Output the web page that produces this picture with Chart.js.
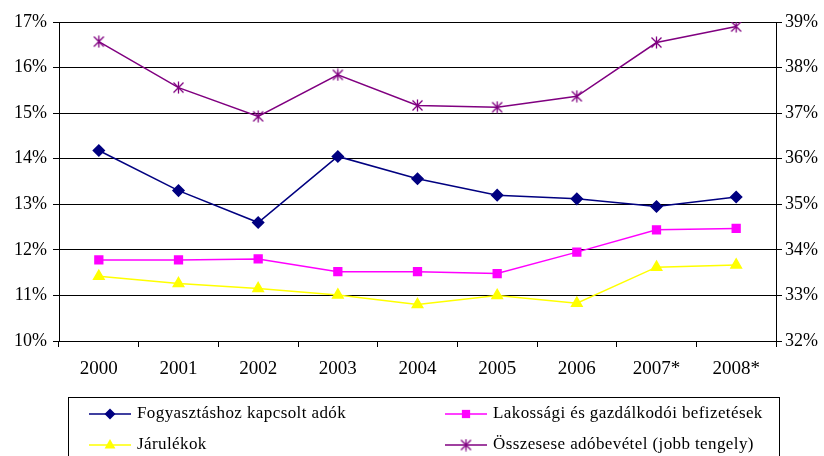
<!DOCTYPE html>
<html lang="hu">
<head>
<meta charset="UTF-8">
<title>Adóbevételek</title>
<script src="https://cdn.jsdelivr.net/npm/chart.js"></script>
<style>
  html, body { margin: 0; padding: 0; background: #fff; }
  #wrap { width: 824px; height: 456px; position: relative; }
</style>
</head>
<body>
<div id="wrap"><canvas id="grafikon" width="824" height="456"></canvas></div>

<script>
// adatok
var evek = ['2000', '2001', '2002', '2003', '2004', '2005', '2006', '2007*', '2008*'];
var fogyasztasi = [14.18, 13.30, 12.60, 14.05, 13.56, 13.20, 13.12, 12.95, 13.16];
var lakossagi = [11.78, 11.78, 11.80, 11.52, 11.52, 11.48, 11.95, 12.44, 12.47];
var jarulekok = [11.42, 11.26, 11.15, 11.01, 10.80, 11.00, 10.83, 11.62, 11.67];
var osszesen = [38.57, 37.56, 36.93, 37.84, 37.17, 37.13, 37.37, 38.55, 38.90];
var nevek = ['Fogyasztáshoz kapcsolt adók', 'Lakossági és gazdálkodói befizetések', 'Járulékok', 'Összesese adóbevétel (jobb tengely)'];

var betu = '"Liberation Serif", "Times New Roman", serif';

// csillag jelölő (X + függőleges vonal)
function csillagKep(szin) {
    var c = document.createElement('canvas');
    c.width = 13; c.height = 13;
    var g = c.getContext('2d');
    g.strokeStyle = szin;
    g.lineWidth = 1.3;
    g.beginPath();
    g.moveTo(1.5, 1.5); g.lineTo(11.5, 11.5);
    g.moveTo(11.5, 1.5); g.lineTo(1.5, 11.5);
    g.moveTo(6.5, 0.5); g.lineTo(6.5, 12.5);
    g.stroke();
    return c;
}
var csillag = csillagKep('#800080');

function jelolo(ctx, ds, x, y) {
    ctx.save();
    ctx.fillStyle = ds.pointBackgroundColor;
    var r = ds.pointRadius;
    ctx.beginPath();
    if (ds.pointStyle === 'rectRot') {
        ctx.moveTo(x, y - r); ctx.lineTo(x + r, y); ctx.lineTo(x, y + r); ctx.lineTo(x - r, y);
        ctx.closePath(); ctx.fill();
    } else if (ds.pointStyle === 'rect') {
        ctx.fillRect(x - r * 0.75, y - r * 0.75, r * 1.5, r * 1.5);
    } else if (ds.pointStyle === 'triangle') {
        ctx.moveTo(x, y - r); ctx.lineTo(x + r * 0.9, y + r * 0.6); ctx.lineTo(x - r * 0.9, y + r * 0.6);
        ctx.closePath(); ctx.fill();
    } else {
        ctx.drawImage(csillag, x - 6.5, y - 6.5);
    }
    ctx.restore();
}

// saját jelmagyarázat keretben
var jelmagyarazat = {
    id: 'jelmagyarazat',
    afterDraw: function (chart) {
        var ctx = chart.ctx;
        ctx.save();
        ctx.strokeStyle = '#000';
        ctx.lineWidth = 1;
        ctx.strokeRect(68.5, 397.5, 711, 70);
        var oszlopX = [89, 445];
        var sorY = [414, 445];
        ctx.font = '17px ' + betu;
        ctx.letterSpacing = '0.4px';
        ctx.textBaseline = 'middle';
        chart.data.datasets.forEach(function (ds, i) {
            var x = oszlopX[i % 2];
            var y = sorY[Math.floor(i / 2)];
            ctx.strokeStyle = ds.borderColor;
            ctx.lineWidth = 1.5;
            ctx.beginPath();
            ctx.moveTo(x, y); ctx.lineTo(x + 42, y);
            ctx.stroke();
            jelolo(ctx, ds, x + 21, y);
            ctx.fillStyle = '#000';
            ctx.fillText(ds.label, x + 48, y);
        });
        ctx.restore();
    }
};

var config = {
    type: 'line',
    data: {
        labels: evek,
        datasets: [{
            label: nevek[0],
            data: fogyasztasi,
            yAxisID: 'y',
            borderColor: '#000080',
            pointBackgroundColor: '#000080',
            pointBorderColor: '#000080',
            pointStyle: 'rectRot',
            pointRadius: 5.5,
            borderWidth: 1.5,
            tension: 0
        }, {
            label: nevek[1],
            data: lakossagi,
            yAxisID: 'y',
            borderColor: '#FF00FF',
            pointBackgroundColor: '#FF00FF',
            pointBorderColor: '#FF00FF',
            pointStyle: 'rect',
            pointRadius: 5.5,
            borderWidth: 1.5,
            tension: 0
        }, {
            label: nevek[2],
            data: jarulekok,
            yAxisID: 'y',
            borderColor: '#FFFF00',
            pointBackgroundColor: '#FFFF00',
            pointBorderColor: '#FFFF00',
            pointStyle: 'triangle',
            pointRadius: 6,
            borderWidth: 1.5,
            tension: 0
        }, {
            label: nevek[3],
            data: osszesen,
            yAxisID: 'y1',
            borderColor: '#800080',
            pointBackgroundColor: '#800080',
            pointBorderColor: '#800080',
            pointStyle: csillag,
            pointRadius: 6,
            borderWidth: 1.5,
            tension: 0
        }]
    },
    options: {
        responsive: false,
        animation: false,
        layout: { padding: { top: 22, left: 0, right: 0, bottom: 0 } },
        plugins: {
            legend: { display: false },
            tooltip: { enabled: false }
        },
        scales: {
            x: {
                offset: true,
                afterFit: function (s) { s.height = 115; },
                grid: { offset: true, drawOnChartArea: false, drawTicks: true, tickLength: 6, color: '#000' },
                border: { color: '#000', width: 1 },
                ticks: { color: '#000', padding: 11, font: { family: betu, size: 19 } }
            },
            y: {
                position: 'left',
                min: 10, max: 17,
                afterFit: function (s) { s.width = 59; },
                ticks: { stepSize: 1, color: '#000', padding: 6, font: { family: betu, size: 18 },
                    callback: function (v) { return v + '%'; } },
                grid: { color: '#000', lineWidth: 1, tickLength: 6 },
                border: { color: '#000', width: 1 }
            },
            y1: {
                position: 'right',
                min: 32, max: 39,
                afterFit: function (s) { s.width = 48; },
                ticks: { stepSize: 1, color: '#000', padding: 3, font: { family: betu, size: 18 },
                    callback: function (v) { return v + '%'; } },
                grid: { drawOnChartArea: false, color: '#000', tickLength: 6 },
                border: { color: '#000', width: 1 }
            }
        }
    },
    plugins: [jelmagyarazat]
};

new Chart(document.getElementById('grafikon').getContext('2d'), config);
</script>
</body>
</html>
